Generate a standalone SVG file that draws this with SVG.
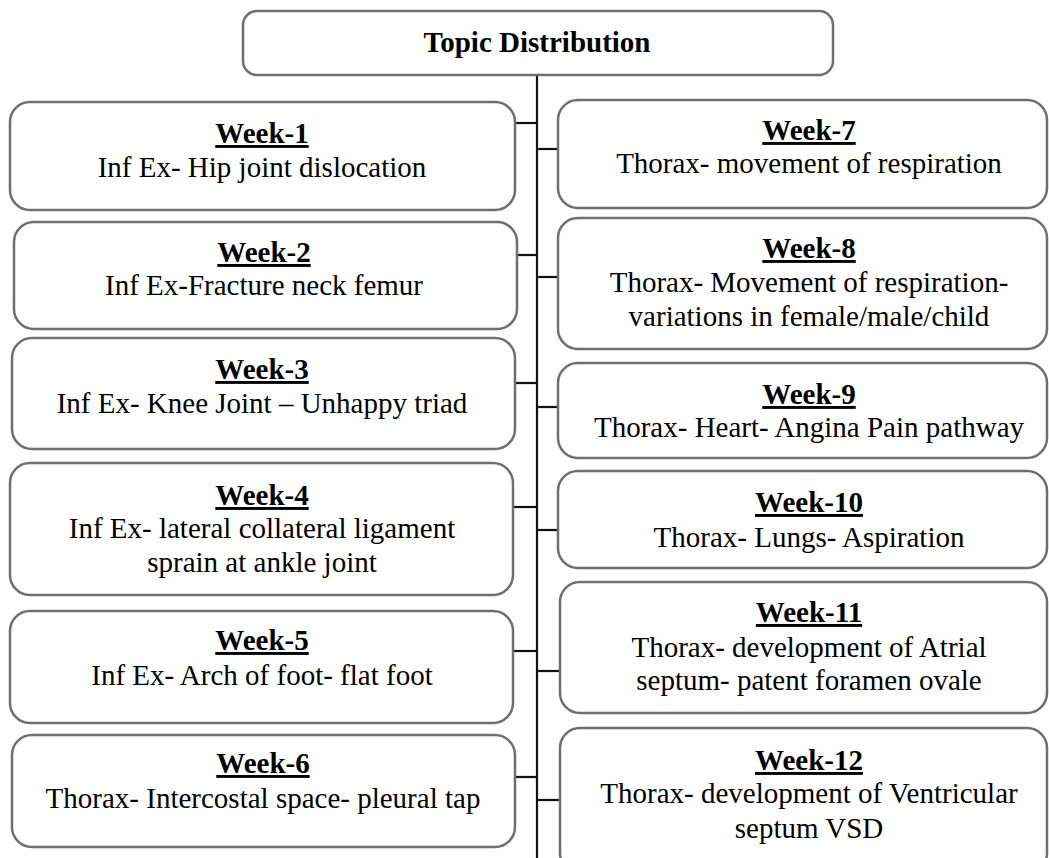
<svg xmlns="http://www.w3.org/2000/svg" width="1049" height="858" viewBox="0 0 1049 858" font-family="'Liberation Serif', 'Times New Roman', Times, 'DejaVu Serif', serif">
<style>
.box{fill:#fff;stroke:#6f6f6f;stroke-width:2.5}
.ln{stroke:#111;stroke-width:2.2;fill:none}
text{font-family:'Liberation Serif','Times New Roman',Times,serif;font-size:29px;fill:#000;text-anchor:middle}
.h{font-weight:bold;text-decoration:underline}
.t{font-weight:bold}
</style>
<rect width="1049" height="858" fill="#fff"/>
<g id="connectors">
<line class="ln" x1="537" y1="75" x2="537" y2="858"/>
<line class="ln" x1="515" y1="123" x2="537" y2="123"/>
<line class="ln" x1="517" y1="255" x2="537" y2="255"/>
<line class="ln" x1="515" y1="383" x2="537" y2="383"/>
<line class="ln" x1="513" y1="507" x2="537" y2="507"/>
<line class="ln" x1="513" y1="651" x2="537" y2="651"/>
<line class="ln" x1="515" y1="777" x2="537" y2="777"/>
<line class="ln" x1="537" y1="149" x2="558" y2="149"/>
<line class="ln" x1="537" y1="277" x2="558" y2="277"/>
<line class="ln" x1="537" y1="407" x2="558" y2="407"/>
<line class="ln" x1="537" y1="530" x2="558" y2="530"/>
<line class="ln" x1="537" y1="671" x2="560" y2="671"/>
<line class="ln" x1="537" y1="800" x2="560" y2="800"/>
</g>
<g id="topic">
<rect class="box" x="243" y="11" width="590" height="64" rx="14"/>
<text class="t" x="537" y="52">Topic Distribution</text>
</g>
<g id="week1">
<rect class="box" x="10" y="102" width="505" height="108" rx="20"/>
<text class="h" x="262" y="143">Week-1</text>
<text x="262" y="177">Inf Ex- Hip joint dislocation</text>
</g>
<g id="week2">
<rect class="box" x="14" y="222" width="503" height="107" rx="20"/>
<text class="h" x="264" y="262">Week-2</text>
<text x="264" y="295">Inf Ex-Fracture neck femur</text>
</g>
<g id="week3">
<rect class="box" x="12" y="338" width="503" height="111" rx="20"/>
<text class="h" x="262" y="379">Week-3</text>
<text x="262" y="413">Inf Ex- Knee Joint – Unhappy triad</text>
</g>
<g id="week4">
<rect class="box" x="10" y="463" width="503" height="132" rx="20"/>
<text class="h" x="262" y="505">Week-4</text>
<text x="262" y="538">Inf Ex- lateral collateral ligament</text>
<text x="262" y="572">sprain at ankle joint</text>
</g>
<g id="week5">
<rect class="box" x="10" y="611" width="503" height="112" rx="20"/>
<text class="h" x="262" y="650">Week-5</text>
<text x="262" y="685">Inf Ex- Arch of foot- flat foot</text>
</g>
<g id="week6">
<rect class="box" x="12" y="735" width="503" height="112" rx="20"/>
<text class="h" x="263" y="773">Week-6</text>
<text x="263" y="808">Thorax- Intercostal space- pleural tap</text>
</g>
<g id="week7">
<rect class="box" x="558" y="100" width="489" height="108" rx="20"/>
<text class="h" x="809" y="140">Week-7</text>
<text x="809" y="173">Thorax- movement of respiration</text>
</g>
<g id="week8">
<rect class="box" x="558" y="218" width="489" height="131" rx="20"/>
<text class="h" x="809" y="258">Week-8</text>
<text x="809" y="292">Thorax- Movement of respiration-</text>
<text x="809" y="326">variations in female/male/child</text>
</g>
<g id="week9">
<rect class="box" x="558" y="363" width="489" height="95" rx="20"/>
<text class="h" x="809" y="404">Week-9</text>
<text x="809" y="437">Thorax- Heart- Angina Pain pathway</text>
</g>
<g id="week10">
<rect class="box" x="558" y="471" width="489" height="97" rx="20"/>
<text class="h" x="809" y="512">Week-10</text>
<text x="809" y="547">Thorax- Lungs- Aspiration</text>
</g>
<g id="week11">
<rect class="box" x="560" y="582" width="487" height="131" rx="20"/>
<text class="h" x="809" y="622">Week-11</text>
<text x="809" y="657">Thorax- development of Atrial</text>
<text x="809" y="690">septum- patent foramen ovale</text>
</g>
<g id="week12">
<rect class="box" x="560" y="728" width="487" height="145" rx="20"/>
<text class="h" x="809" y="770">Week-12</text>
<text x="809" y="803">Thorax- development of Ventricular</text>
<text x="809" y="838">septum VSD</text>
</g>
</svg>
